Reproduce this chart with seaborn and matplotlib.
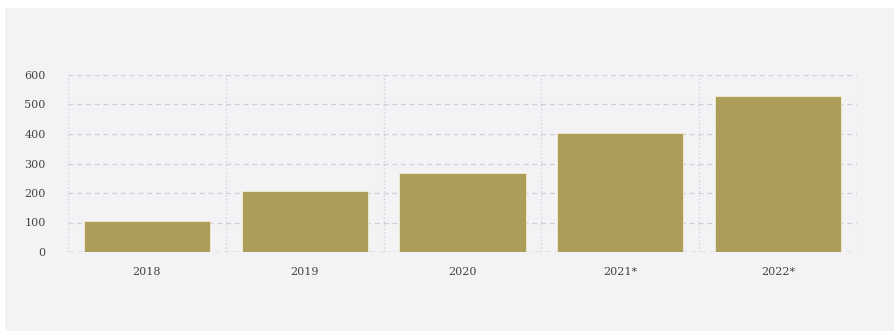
import matplotlib
matplotlib.use("Agg")
import matplotlib.pyplot as plt
import seaborn as sns
import pandas as pd
from matplotlib.patches import Rectangle

years = ["2018", "2019", "2020", "2021*", "2022*"]
values = [105, 206, 267, 403, 529]
yticks = [0, 100, 200, 300, 400, 500, 600]

df = pd.DataFrame({"year": years, "value": values})

sns.set_style("white")
plt.rcParams["font.family"] = ["DejaVu Serif"]

W, H = 894, 331
fig = plt.figure(figsize=(W / 100, H / 100), dpi=100, facecolor="white")
fig.patches.append(Rectangle((5 / W, 0), 1 - 5 / W, 1 - 8 / H, transform=fig.transFigure,
                             facecolor="#f3f3f5", edgecolor="none", zorder=-10))
ax = fig.add_axes([68 / W, 1 - 252 / H, (857 - 68) / W, (252 - 75) / H])
ax.set_facecolor("none")
ax.patch.set_visible(False)

sns.barplot(data=df, x="year", y="value", color="#ac9e59", saturation=1, width=0.8,
            edgecolor="#f5ecd0", linewidth=0.6, ax=ax, zorder=3)

ax.set_xlim(-0.5, 4.5)
ax.set_ylim(0, 600)
ax.set_yticks(yticks)
ax.set_yticklabels([str(t) for t in yticks])
for y in yticks[1:]:
    ax.axhline(y, color="#cfcfd4", lw=0.9, ls=(0, (4, 3)), zorder=1)
ax.axhline(0, color="#a9a9ae", lw=1.0, ls=(0, (4, 3)), zorder=4)
for x in [-0.5, 0.5, 1.5, 2.5, 3.5, 4.5]:
    ax.axvline(x, color="#cfcfd4", lw=0.9, ls=(0, (1, 2)), zorder=1)

for s in ax.spines.values():
    s.set_visible(False)
ax.set_xlabel("")
ax.set_ylabel("")
ax.tick_params(axis="y", length=0, pad=16, labelsize=8, labelcolor="#444444")
ax.tick_params(axis="x", length=2, color="#cccccc", pad=9, labelsize=8, labelcolor="#444444")

fig.savefig("out.png", dpi=100, facecolor="white")
